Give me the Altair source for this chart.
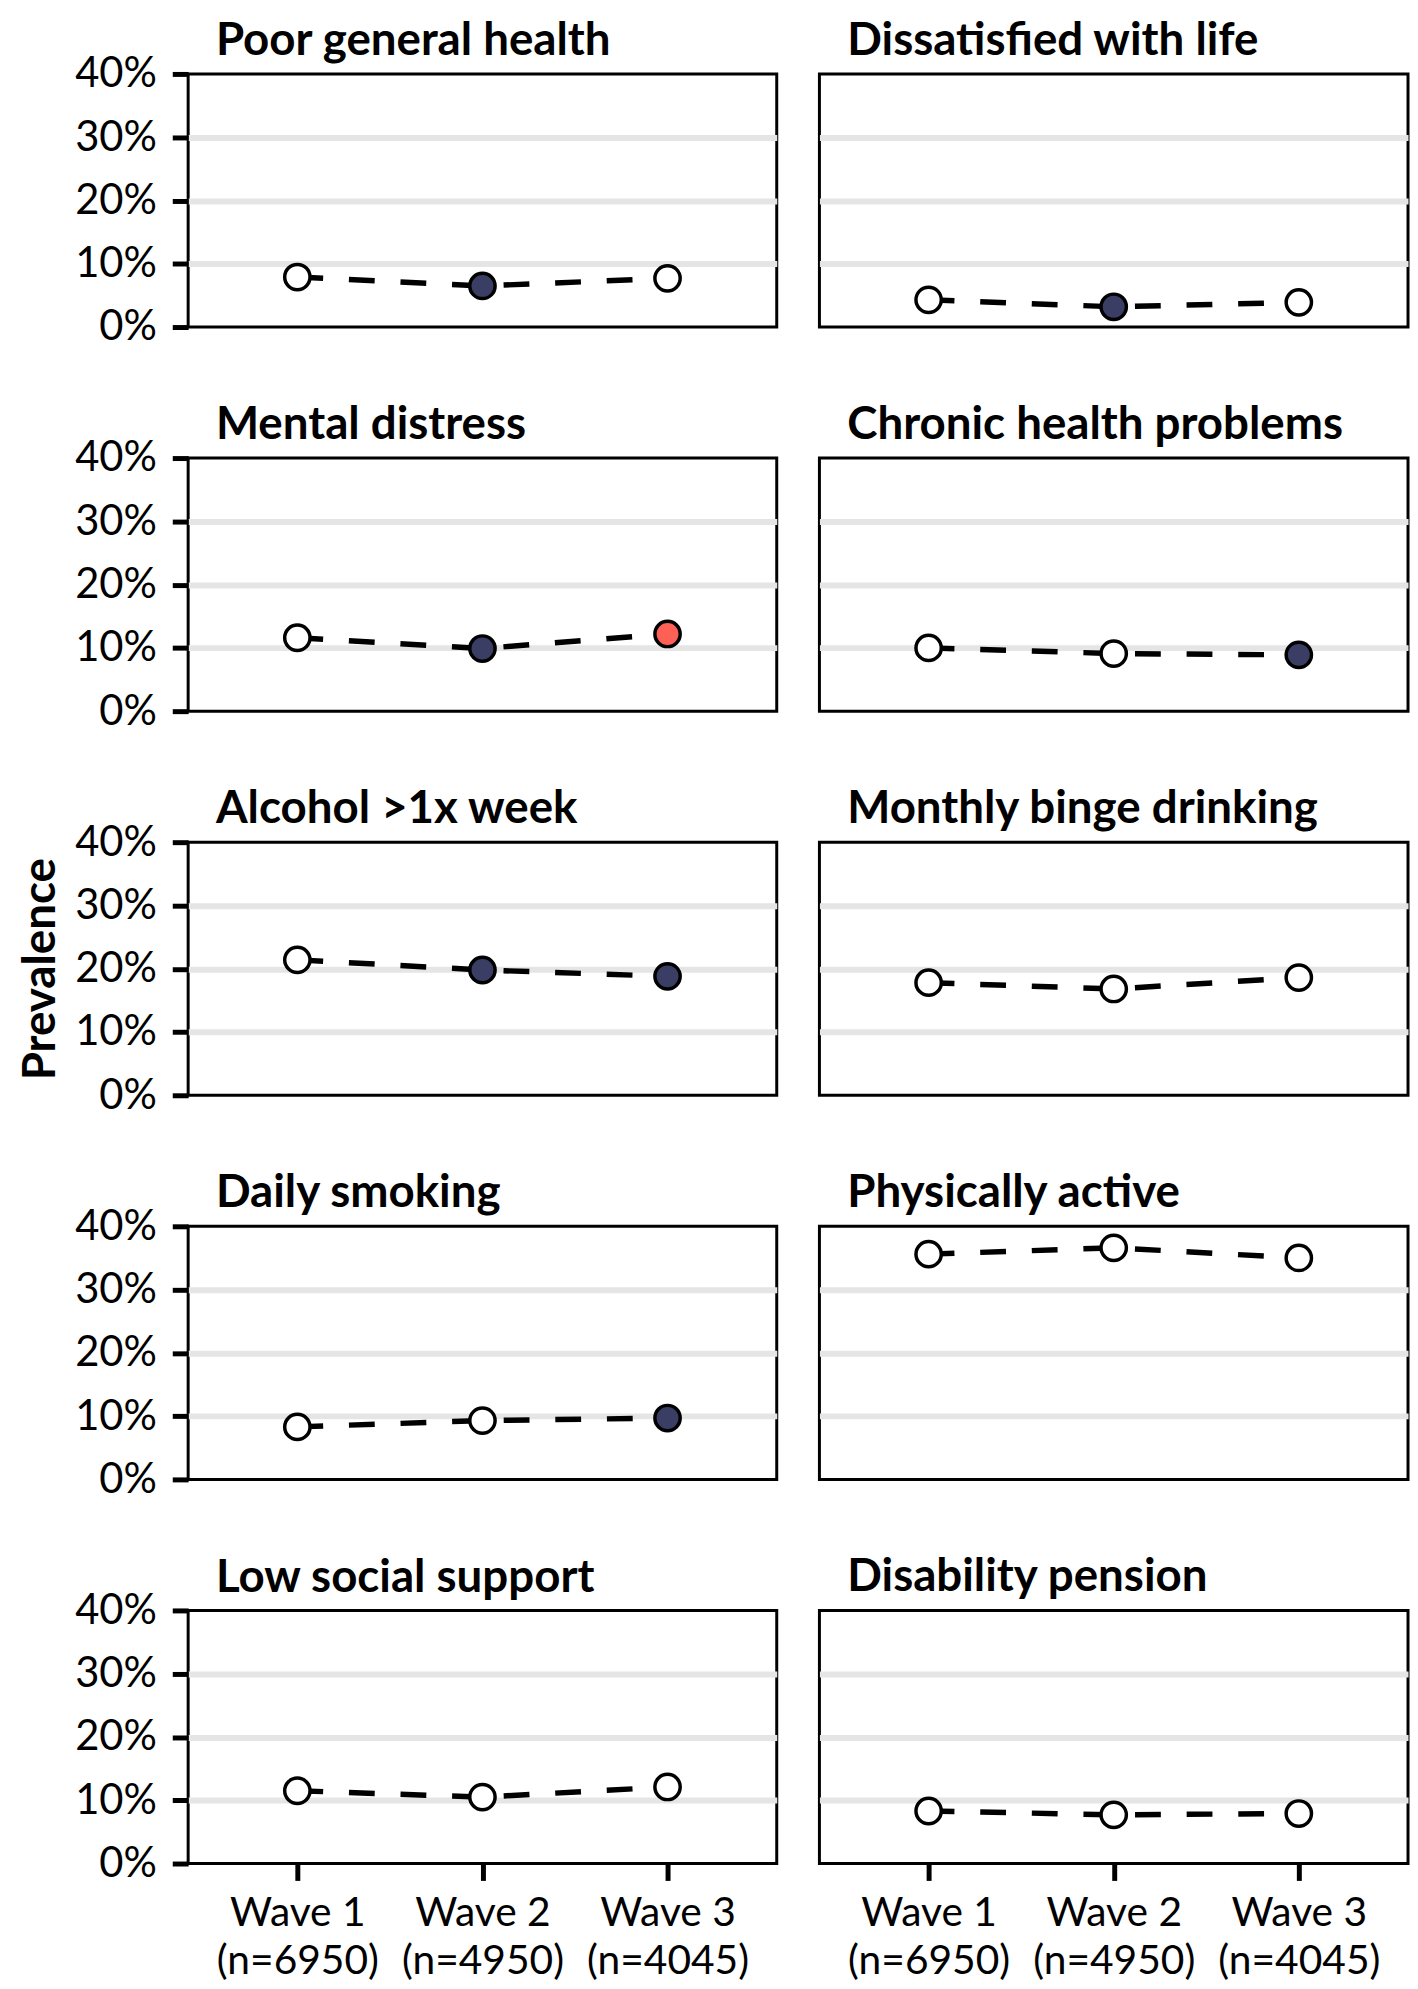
import altair as alt
import pandas as pd

measures = [
    "Poor general health", "Dissatisfied with life",
    "Mental distress", "Chronic health problems",
    "Alcohol >1x week", "Monthly binge drinking",
    "Daily smoking", "Physically active",
    "Low social support", "Disability pension",
]
waves = ["Wave 1", "Wave 2", "Wave 3"]
sample_sizes = ["(n=6950)", "(n=4950)", "(n=4045)"]

wave1 = [7.9, 4.3, 11.6, 10.0, 21.4, 17.8, 8.3, 35.6, 11.5, 8.3]
wave2 = [6.5, 3.2, 9.9, 9.1, 19.8, 16.8, 9.3, 36.6, 10.5, 7.7]
wave3 = [7.7, 3.9, 12.2, 8.9, 18.8, 18.6, 9.7, 35.0, 12.1, 7.9]

status1 = ["ns"] * 10
status2 = ["dec", "dec", "dec", "ns", "dec", "ns", "ns", "ns", "ns", "ns"]
status3 = ["ns", "ns", "inc", "dec", "dec", "ns", "dec", "ns", "ns", "ns"]

status_domain = ["ns", "dec", "inc"]
status_colors = ["#ffffff", "#3b3e64", "#fd6156"]

wave_order = [f"{w}|{n}" for w, n in zip(waves, sample_sizes)]

records = []
for i, m in enumerate(measures):
    for j, (vals, st) in enumerate(zip([wave1, wave2, wave3], [status1, status2, status3])):
        records.append({"measure": m, "wave": wave_order[j], "value": vals[i], "status": st[i]})
df = pd.DataFrame(records)

FONT = "Lato"
grid_op = {"condition": {"test": "datum.value <= 0 || datum.value >= 40", "value": 0}, "value": 1}


def panel(idx):
    m = measures[idx]
    row, col = divmod(idx, 2)
    left = col == 0
    bottom = row == 4
    if left:
        if row == 2:
            yaxis = alt.Axis(values=[0, 10, 20, 30, 40], labelExpr="datum.value + '%'",
                             title="Prevalence", grid=True, gridOpacity=grid_op)
        else:
            yaxis = alt.Axis(values=[0, 10, 20, 30, 40], labelExpr="datum.value + '%'",
                             title=None, grid=True, gridOpacity=grid_op)
    else:
        yaxis = alt.Axis(values=[0, 10, 20, 30, 40], labels=False, ticks=False,
                         title=None, grid=True, gridOpacity=grid_op)
    if bottom:
        xaxis = alt.Axis(labelExpr="split(datum.label, '|')", labelAngle=0, title=None,
                         grid=False, labelPadding=13, labelLineHeight=49, tickSize=17,
                         labelFontSize=41)
    else:
        xaxis = None

    base = alt.Chart(df).transform_filter(alt.datum.measure == m)
    x = alt.X("wave:O", scale=alt.Scale(type="point", padding=0.59, domain=wave_order), axis=xaxis)
    y = alt.Y("value:Q", scale=alt.Scale(domain=[0, 40], nice=False, zero=True), axis=yaxis)

    line = base.mark_line(color="black", strokeWidth=5.5, strokeDash=[26, 26]).encode(x=x, y=y)
    pts = base.mark_circle(stroke="black", strokeWidth=3.5, size=650, opacity=1).encode(
        x=x, y=y,
        fill=alt.Fill("status:N", scale=alt.Scale(domain=status_domain, range=status_colors), legend=None),
    )
    return alt.layer(line, pts).properties(
        width=593, height=255,
        title=alt.TitleParams(m, anchor="start", frame="group", dx=28, offset=-12 if left else 9.5),
    )


panels = [panel(i) for i in range(len(measures))]

chart = alt.concat(*panels, columns=2, spacing={"row": 51, "column": 39}, align="each").properties(
    padding={"top": 1, "left": 7.5, "right": 0, "bottom": 0}
).configure_view(
    stroke="black", strokeWidth=3
).configure_axis(
    labelFont=FONT, labelFontSize=42, labelColor="black",
    tickColor="black", tickWidth=5, tickSize=16,
    gridColor="#e5e5e5", gridWidth=6, domain=False,
    titleFont=FONT, titleFontSize=46, titleFontWeight="bold", titleColor="black",
).configure_axisLeft(
    labelPadding=16, titlePadding=10.5
).configure_title(
    font=FONT, fontSize=46, fontWeight="bold", color="black", baseline="alphabetic"
)

chart.save("out.html", embed_options={"renderer": "svg", "actions": False})
